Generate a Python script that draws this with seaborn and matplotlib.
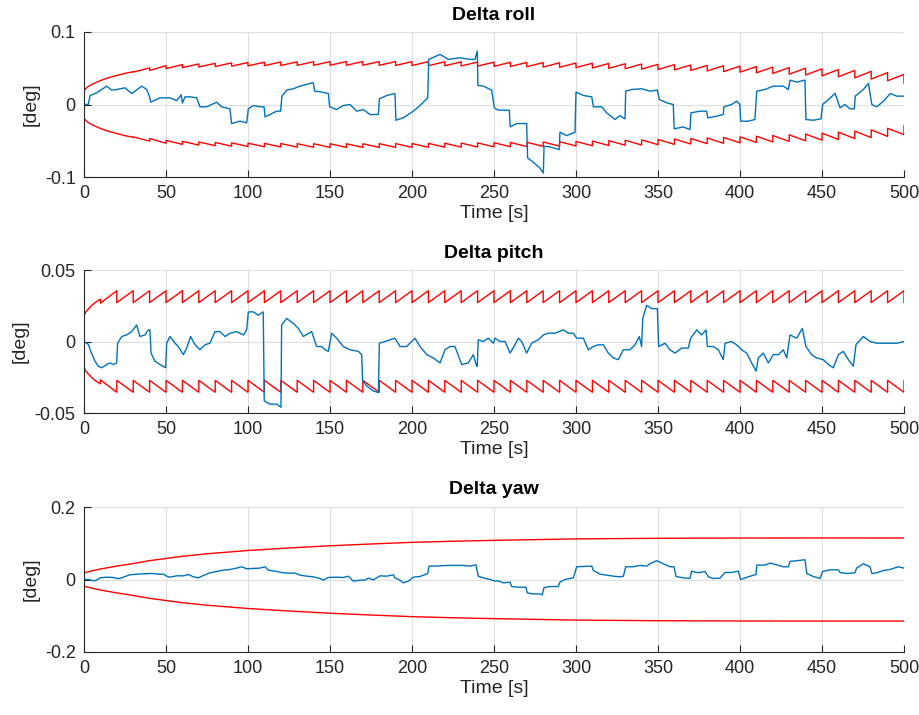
import numpy as np
import pandas as pd
import matplotlib
matplotlib.use("Agg")
import matplotlib.pyplot as plt
import seaborn as sns

# ---------------- data ----------------
roll_t = [0, 2.6, 3.7, 7.7, 13.8, 16.9, 19.9, 25.0, 29.1, 35.2, 38.2, 39.8, 40.7, 46.3, 52.4, 56.5,
          59.3, 60.0, 61.6, 64.6, 68.7, 70.7, 74.8, 80.9, 83.9, 89.0, 90.0, 95.1, 99.2, 100.2, 103.3,
          107.3, 109.8, 110.4, 113.4, 117.5, 119.9, 120.7, 123.6, 127.6, 131.7, 137.8, 139.8, 140.7,
          143.9, 149.0, 149.8, 154.1, 158.1, 162.2, 166.3, 170.3, 174.4, 179.5, 180.1, 184.6, 189.6,
          190.2, 194.7, 200.8, 204.9, 209.6, 210.2, 217.1, 222.2, 229.3, 235.4, 238.4, 239.8, 240.2,
          243.5, 248.6, 250.2, 252.6, 259.3, 259.9, 263.8, 269.9, 270.5, 274.0, 278.0, 280.1, 280.5,
          284.1, 289.8, 290.2, 294.3, 299.4, 300.0, 304.5, 309.6, 310.6, 315.7, 318.7, 323.8, 326.8,
          329.9, 330.3, 334.0, 340.1, 345.1, 349.6, 350.8, 355.3, 359.3, 359.9, 365.4, 369.5, 370.1,
          375.6, 379.7, 380.3, 385.8, 389.8, 390.2, 394.9, 397.9, 399.9, 400.4, 405.0, 409.1, 410.2,
          415.2, 420.3, 426.4, 429.5, 430.5, 434.6, 439.6, 440.2, 444.7, 449.4, 450.4, 453.9, 458.0,
          461.0, 464.0, 467.1, 469.7, 470.3, 475.2, 478.3, 480.4, 483.4, 487.5, 491.7, 495.7, 500.0]
roll_v = [0, 0.0, 0.0124, 0.0161, 0.0253, 0.0198, 0.0207, 0.023, 0.0152, 0.0253, 0.0207, 0.012,
          0.0032, 0.0092, 0.0092, 0.0055, 0.0134, 0.002, 0.0106, 0.0106, 0.0092, -0.0032, -0.0032,
          0.0032, -0.0032, -0.006, -0.0263, -0.023, -0.0253, -0.006, -0.0014, -0.0032, -0.0032,
          -0.0171, -0.0138, -0.0092, -0.0092, 0.0115, 0.0198, 0.0217, 0.0253, 0.029, 0.030, 0.0184,
          0.0175, 0.0152, -0.0032, -0.0069, -0.0014, 0.0, -0.0092, -0.0069, -0.0138, -0.0138, 0.0078,
          0.0124, 0.0152, -0.0217, -0.0184, -0.0092, -0.0014, 0.0092, 0.0622, 0.0691, 0.0622, 0.0645,
          0.0622, 0.0622, 0.0737, 0.0263, 0.0253, 0.0198, -0.0046, -0.0078, -0.0078, -0.0308,
          -0.0263, -0.0263, -0.0737, -0.0797, -0.0876, -0.0945, -0.0576, -0.0585, -0.0622, -0.0382,
          -0.0429, -0.0382, 0.0171, 0.0124, 0.0106, -0.0032, -0.0032, -0.0115, -0.0207, -0.0152,
          -0.0198, 0.0184, 0.0207, 0.0217, 0.0184, 0.0198, 0.0069, 0.0023, 0.0, -0.0336, -0.0309,
          -0.0346, -0.0115, -0.0092, -0.0092, -0.0184, -0.0161, -0.0138, -0.0032, 0.0, 0.0046, 0.0,
          -0.023, -0.023, -0.0207, 0.0184, 0.0207, 0.0253, 0.0253, 0.0207, 0.0336, 0.0309, 0.0336,
          -0.0207, -0.0217, -0.0198, 0.0, 0.0069, 0.0152, -0.0046, 0.0, -0.006, -0.006, 0.0115,
          0.0207, 0.029, 0.0, -0.0032, 0.0046, 0.0152, 0.0115, 0.0115]

roll_bound_start_t = [0, 2, 5, 10, 15, 20, 25]
roll_bound_start_v = [0.019, 0.024, 0.028, 0.033, 0.037, 0.040, 0.043]
roll_tooth_t = [30, 40, 50, 60, 70, 80, 90, 100, 110, 120, 130, 140, 150, 160, 170, 180, 190, 200,
                210, 220, 230, 240, 250, 260, 270, 280, 290, 300, 310, 320, 330, 340, 350, 360, 370,
                380, 390, 400, 410, 420, 430, 440, 450, 460, 470, 480, 490, 500]
roll_peak = [0.0452, 0.0505, 0.0535, 0.0550, 0.0560, 0.0568, 0.0574, 0.0579, 0.0583, 0.0586, 0.0588,
             0.0590, 0.0591, 0.0592, 0.0592, 0.0592, 0.0592, 0.0591, 0.0590, 0.0589, 0.0588, 0.0586,
             0.0584, 0.0582, 0.0580, 0.0578, 0.0575, 0.0572, 0.0569, 0.0566, 0.0562, 0.0558, 0.0554,
             0.0550, 0.0545, 0.0540, 0.0535, 0.0529, 0.0523, 0.0516, 0.0509, 0.0501, 0.0492, 0.0482,
             0.0470, 0.0457, 0.0440, 0.0415]
roll_trough = [0.0447, 0.0470, 0.0495, 0.0508, 0.0517, 0.0524, 0.0529, 0.0533, 0.0536, 0.0538, 0.0540,
               0.0541, 0.0541, 0.0541, 0.0541, 0.0540, 0.0539, 0.0538, 0.0536, 0.0534, 0.0532, 0.0530,
               0.0527, 0.0524, 0.0521, 0.0517, 0.0513, 0.0509, 0.0504, 0.0499, 0.0494, 0.0488, 0.0482,
               0.0476, 0.0469, 0.0462, 0.0454, 0.0446, 0.0437, 0.0428, 0.0418, 0.0407, 0.0395, 0.0382,
               0.0367, 0.0350, 0.0328, 0.0290]

pitch_t = [0, 2.6, 4.7, 6.7, 8.7, 10.8, 13.8, 15.9, 17.9, 19.9, 20.5, 23.0, 26.0, 29.1, 32.1, 34.1,
           37.2, 39.2, 40.2, 40.9, 43.3, 46.3, 49.8, 50.4, 52.4, 55.5, 57.5, 60.6, 62.6, 65.0, 67.7,
           70.7, 73.8, 76.8, 79.9, 82.9, 86.0, 89.0, 93.1, 97.2, 99.2, 100.2, 103.3, 106.3, 109.3,
           109.9, 113.4, 117.5, 120.1, 120.5, 123.6, 127.6, 130.7, 133.7, 138.8, 141.9, 144.9, 147.0,
           149.0, 151.0, 154.1, 158.1, 162.2, 167.3, 169.3, 169.9, 172.4, 176.4, 179.5, 180.1, 183.5,
           186.6, 189.6, 192.7, 196.7, 201.8, 204.9, 209.0, 213.0, 217.1, 220.1, 223.2, 226.2, 230.3,
           234.3, 237.4, 239.4, 239.8, 240.4, 243.5, 246.5, 249.6, 250.6, 253.7, 256.7, 259.8, 262.8,
           264.8, 266.9, 269.9, 272.9, 277.0, 280.1, 283.1, 287.2, 292.3, 295.3, 298.4, 300.4, 304.5,
           307.5, 310.6, 313.6, 316.7, 319.7, 322.8, 325.8, 328.9, 332.9, 336.0, 338.6, 340.0, 340.7,
           343.1, 346.1, 349.6, 350.4, 354.3, 357.3, 360.4, 364.4, 368.5, 369.9, 373.6, 376.6, 379.3,
           380.1, 383.7, 386.8, 389.8, 390.9, 394.9, 397.9, 401.0, 404.1, 407.1, 409.8, 411.2, 414.2,
           417.3, 420.3, 423.4, 426.4, 428.5, 430.5, 434.6, 438.0, 440.2, 443.7, 446.7, 450.8, 453.9,
           456.9, 460.0, 463.0, 466.1, 469.1, 470.7, 475.2, 479.3, 483.4, 487.5, 491.7, 495.7, 500.0]
pitch_v = [0, -0.002, -0.0085, -0.0138, -0.0173, -0.0184, -0.0161, -0.015, -0.0161, -0.015, -0.0012,
           0.0035, 0.0046, 0.0069, 0.0115, 0.0035, 0.0046, 0.0081, 0.0081, -0.0081, -0.0138, -0.0161,
           -0.0184, -0.0012, 0.0035, -0.0012, -0.0035, -0.0092, -0.0046, 0.0035, -0.0023, -0.0058,
           -0.0023, -0.0012, 0.0069, 0.0069, 0.0035, 0.0058, 0.0069, 0.0046, 0.0081, 0.0207, 0.0207,
           0.0184, 0.0207, -0.0415, -0.0438, -0.0438, -0.046, 0.0115, 0.0161, 0.0127, 0.0092, 0.0035,
           0.0069, -0.0035, -0.0035, -0.0058, -0.0069, 0.0058, 0.0023, -0.0035, -0.0058, -0.0069,
           -0.0092, -0.0276, -0.0311, -0.0346, -0.0357, -0.0012, 0.0, 0.0012, 0.0023, -0.0035, -0.0035,
           0.0023, -0.0035, -0.0092, -0.0115, -0.015, -0.0058, -0.0035, -0.0035, -0.0161, -0.015,
           -0.0092, -0.0173, -0.0173, 0.0012, 0.0, 0.0023, -0.0012, 0.0023, 0.0, 0.0, -0.0081, -0.0023,
           0.0023, 0.0, -0.0081, -0.0012, 0.0012, 0.0046, 0.0058, 0.0058, 0.0081, 0.0058, 0.0058,
           0.0023, 0.0023, -0.0058, -0.0035, -0.0023, -0.0023, -0.0081, -0.0115, -0.0127, -0.0058,
           -0.0058, -0.0023, 0.0035, -0.0035, 0.0161, 0.0253, 0.023, 0.023, -0.0035, -0.0012, -0.0058,
           -0.0081, -0.0046, -0.0046, 0.0023, 0.0081, 0.0046, 0.0081, -0.0035, -0.0035, -0.0058,
           -0.0127, -0.0012, 0.0, -0.0023, -0.0058, -0.0081, -0.015, -0.0207, -0.0115, -0.0081,
           -0.015, -0.0092, -0.0092, -0.0058, -0.0115, 0.0046, 0.0023, 0.0092, -0.0035, -0.0092,
           -0.0115, -0.0127, -0.0161, -0.0184, -0.0092, -0.0069, -0.0127, -0.0173, -0.0023, 0.0035,
           0.0, -0.0012, -0.0012, -0.0012, -0.0012, 0.0]

pitch_bound_start_t = [0, 1, 2.5, 5, 7.5]
pitch_bound_start_v = [0.018, 0.0205, 0.0225, 0.0255, 0.0278]
pitch_tooth_t = [10, 20, 30, 40, 50, 60, 70, 80, 90, 100, 110, 120, 130, 140, 150, 160, 170, 180,
                 190, 200, 210, 220, 230, 240, 250, 260, 270, 280, 290, 300, 310, 320, 330, 340, 350,
                 360, 370, 380, 390, 400, 410, 420, 430, 440, 450, 460, 470, 480, 490, 500]
pitch_peak = [0.0296, 0.0355, 0.0355, 0.0355, 0.0355, 0.0355, 0.0355, 0.0355, 0.0355, 0.0355,
              0.0355, 0.0355, 0.0355, 0.0355, 0.0355, 0.0355, 0.0355, 0.0355, 0.0355, 0.0355,
              0.0355, 0.0355, 0.0355, 0.0355, 0.0355, 0.0355, 0.0355, 0.0355, 0.0355, 0.0355,
              0.0355, 0.0355, 0.0355, 0.0355, 0.0355, 0.0355, 0.0355, 0.0355, 0.0355, 0.0355,
              0.0355, 0.0355, 0.0355, 0.0355, 0.0355, 0.0355, 0.0355, 0.0355, 0.0355, 0.0355]
pitch_trough = [0.0268, 0.0272, 0.0272, 0.0272, 0.0272, 0.0272, 0.0272, 0.0272, 0.0272, 0.0272,
                0.0272, 0.0272, 0.0272, 0.0272, 0.0272, 0.0272, 0.0272, 0.0272, 0.0272, 0.0272,
                0.0272, 0.0272, 0.0272, 0.0272, 0.0272, 0.0272, 0.0272, 0.0272, 0.0272, 0.0272,
                0.0272, 0.0272, 0.0272, 0.0272, 0.0272, 0.0272, 0.0272, 0.0272, 0.0272, 0.0272,
                0.0272, 0.0272, 0.0272, 0.0272, 0.0272, 0.0272, 0.0272, 0.0272, 0.0272, 0.0272]

yaw_t = [0, 2.6, 5.7, 7.7, 9.8, 13.8, 17.9, 20.9, 24.0, 28.0, 32.1, 36.2, 41.3, 45.3, 48.4, 50.4,
         52.4, 56.5, 60.6, 63.6, 66.7, 69.7, 72.8, 76.8, 80.9, 85.0, 89.0, 93.1, 96.1, 99.2, 103.3,
         107.3, 110.4, 112.4, 117.5, 121.5, 125.6, 128.7, 131.7, 135.8, 139.8, 143.9, 145.9, 149.0,
         154.1, 158.1, 161.2, 164.2, 168.3, 171.3, 173.4, 176.4, 180.5, 184.6, 188.6, 189.6, 192.7,
         194.7, 197.8, 200.8, 204.9, 207.9, 209.6, 210.4, 215.0, 221.1, 229.3, 231.3, 235.4, 239.0,
         240.4, 243.5, 247.6, 250.6, 252.6, 255.7, 259.8, 260.8, 264.8, 269.5, 270.3, 273.9, 278.0,
         279.4, 280.5, 284.1, 289.2, 290.2, 293.3, 298.4, 300.4, 304.5, 309.6, 310.6, 314.6, 318.7,
         322.8, 326.8, 328.9, 330.3, 334.9, 339.0, 343.1, 345.1, 349.2, 353.3, 357.3, 359.8, 361.0,
         365.4, 369.5, 370.5, 374.6, 378.7, 380.7, 383.7, 387.8, 390.9, 394.9, 399.0, 400.4, 405.0,
         409.8, 410.2, 415.2, 418.3, 422.4, 426.4, 429.5, 430.5, 434.6, 439.6, 440.7, 444.7, 448.8,
         450.4, 454.9, 460.0, 461.0, 465.0, 470.1, 471.1, 475.2, 479.3, 480.4, 483.4, 487.5, 491.5,
         496.6, 500.0]
yaw_v = [0, 0.0, -0.0037, -0.002, 0.0046, 0.0065, 0.0055, 0.002, 0.0065, 0.0129, 0.0148, 0.0157,
         0.0166, 0.0148, 0.0148, 0.0092, 0.0065, 0.0101, 0.0102, 0.0138, 0.0074, 0.0046, 0.0111,
         0.0185, 0.0222, 0.0259, 0.0277, 0.0314, 0.0351, 0.0296, 0.0305, 0.0314, 0.0351, 0.0259,
         0.0222, 0.0185, 0.0176, 0.0176, 0.012, 0.0092, 0.0074, 0.0028, -0.0018, 0.0055, 0.0065,
         0.0055, 0.009, -0.0046, -0.0018, -0.0018, 0.0037, -0.0009, 0.0101, 0.0092, 0.0129, 0.0046,
         -0.0018, -0.0092, -0.0046, 0.0065, 0.0083, 0.0138, 0.0166, 0.037, 0.037, 0.0388, 0.0388,
         0.0388, 0.037, 0.0406, 0.0092, 0.0046, 0.0, -0.0046, -0.0037, -0.0092, -0.0074, -0.0194,
         -0.0212, -0.0212, -0.037, -0.0397, -0.0397, -0.0425, -0.0222, -0.0194, -0.0194, -0.0074,
         0.0, 0.0046, 0.0351, 0.036, 0.037, 0.0249, 0.0148, 0.012, 0.0092, 0.0074, 0.0092, 0.0351,
         0.0351, 0.0388, 0.037, 0.0434, 0.0518, 0.0434, 0.0351, 0.0351, 0.0083, 0.0046, 0.0028,
         0.0231, 0.0185, 0.0222, 0.0074, 0.0028, 0.0037, 0.0194, 0.0194, 0.0231, 0.0, 0.0074, 0.0138,
         0.0397, 0.0397, 0.0453, 0.0406, 0.0351, 0.0351, 0.0499, 0.0518, 0.0545, 0.0166, 0.0083,
         0.0028, 0.0222, 0.0268, 0.0268, 0.0194, 0.0166, 0.0185, 0.0314, 0.0434, 0.0351, 0.0166,
         0.0185, 0.0249, 0.0277, 0.0351, 0.0314]

yaw_bound_t = [0, 5, 10, 15, 20, 30, 40, 50, 60, 75, 100, 125, 150, 175, 200, 225, 250, 275, 300,
               350, 400, 450, 500]
yaw_bound_v = [0.0185, 0.024, 0.029, 0.033, 0.037, 0.044, 0.052, 0.058, 0.064, 0.071, 0.080, 0.087,
               0.093, 0.098, 0.1025, 0.1055, 0.108, 0.110, 0.112, 0.1137, 0.1144, 0.1146, 0.1145]

titles = ["Delta roll", "Delta pitch", "Delta yaw"]
y_limits = [0.1, 0.05, 0.2]
y_tick_labels = [["-0.1", "0", "0.1"], ["-0.05", "0", "0.05"], ["-0.2", "0", "0.2"]]
x_ticks = [0, 50, 100, 150, 200, 250, 300, 350, 400, 450, 500]

# ---------------- style ----------------
sns.set_style("white")
plt.rcParams["font.family"] = ["Liberation Sans", "DejaVu Sans"]
BLUE = "#0072BD"
RED = "#FF0000"
DARK = "#262626"
GRID = "#DFDFDF"


def saw_bound(start_t, start_v, tooth_t, peak, trough):
    ts = list(start_t)
    vs = list(start_v)
    for t, p, q in zip(tooth_t, peak, trough):
        ts += [t, t]
        vs += [p, q]
    return pd.DataFrame({"t": ts, "v": vs})


sig_frames = [pd.DataFrame({"t": roll_t, "v": roll_v}),
              pd.DataFrame({"t": pitch_t, "v": pitch_v}),
              pd.DataFrame({"t": yaw_t, "v": yaw_v})]
bound_frames = [saw_bound(roll_bound_start_t, roll_bound_start_v, roll_tooth_t, roll_peak, roll_trough),
                saw_bound(pitch_bound_start_t, pitch_bound_start_v, pitch_tooth_t, pitch_peak, pitch_trough),
                pd.DataFrame({"t": yaw_bound_t, "v": yaw_bound_v})]

fig = plt.figure(figsize=(9.2, 7.15), dpi=100)
W, H = 920.0, 715.0
boxes = [(32, 177), (270, 413), (507, 652)]
left, right = 84, 904

for i, (top, bot) in enumerate(boxes):
    ax = fig.add_axes([left / W, 1 - bot / H, (right - left) / W, (bot - top) / H])
    b = bound_frames[i]
    neg = b.assign(v=-b["v"])
    sns.lineplot(data=b, x="t", y="v", ax=ax, color=RED, lw=1.0, estimator=None, sort=False)
    sns.lineplot(data=neg, x="t", y="v", ax=ax, color=RED, lw=1.0, estimator=None, sort=False)
    sns.lineplot(data=sig_frames[i], x="t", y="v", ax=ax, color=BLUE, lw=1.0,
                 estimator=None, sort=False)
    lim = y_limits[i]
    ax.set_xlim(0, 500)
    ax.set_ylim(-lim, lim)
    ax.set_xticks(x_ticks)
    ax.set_xticklabels([str(x) for x in x_ticks])
    ax.set_yticks([-lim, 0, lim])
    ax.set_yticklabels(y_tick_labels[i])
    ax.grid(True, color=GRID, lw=0.8)
    ax.set_axisbelow(True)
    for s in ["top", "right"]:
        ax.spines[s].set_visible(False)
    for s in ["left", "bottom"]:
        ax.spines[s].set_color(DARK)
        ax.spines[s].set_linewidth(0.8)
    ax.tick_params(direction="in", length=5, width=0.8, colors=DARK, labelsize=13,
                   left=True, bottom=True, pad=6)
    ax.set_xlabel("Time [s]", fontsize=14, color=DARK, labelpad=2)
    ax.set_ylabel("[deg]", fontsize=14, color=DARK, labelpad=4)
    ax.set_title(titles[i], fontsize=14, fontweight="bold", color="black", pad=9)

fig.savefig("out.png", dpi=100)
